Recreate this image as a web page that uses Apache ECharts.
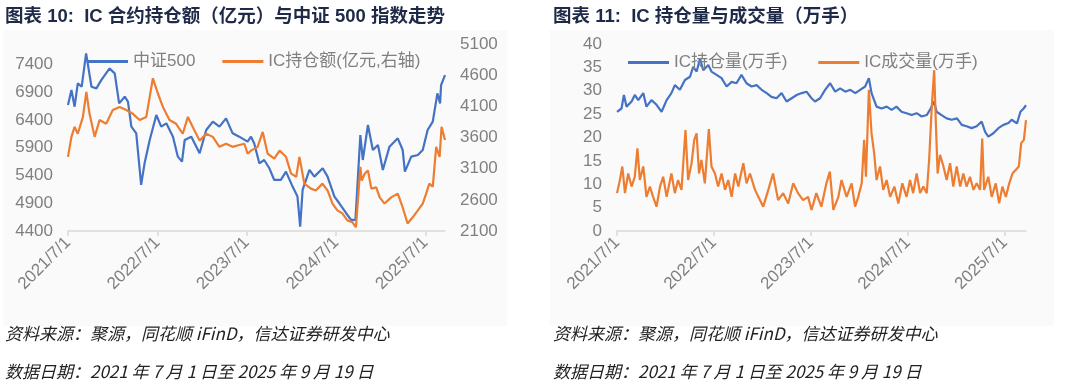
<!DOCTYPE html>
<html><head><meta charset="utf-8">
<script src="https://cdn.jsdelivr.net/npm/echarts@6/dist/echarts.min.js"></script>
<style>html,body{margin:0;padding:0;background:#fff;}#c{width:1080px;height:392px;}</style>
</head><body><div id="c"></div>
<script>
// ---------- data ----------
const xTickLabels = ['2021-07-01','2022-07-01','2023-07-01','2024-07-01','2025-07-01'];
const xStart = '2021-07-01', xEnd = '2025-09-19';

// Chart 10: CSI 500 index (left axis)
const csiDates = ['2021-07-01','2021-07-15','2021-07-28','2021-08-10','2021-08-26','2021-09-13','2021-10-05','2021-10-25','2021-11-14','2021-12-18','2022-01-08','2022-01-26','2022-02-18','2022-03-03','2022-03-17','2022-04-06','2022-04-26','2022-05-10','2022-05-31','2022-06-27','2022-07-17','2022-08-07','2022-09-03','2022-09-23','2022-10-10','2022-10-21','2022-11-17','2022-12-21','2023-01-17','2023-02-13','2023-03-12','2023-04-08','2023-05-05','2023-06-01','2023-07-05','2023-07-19','2023-08-01','2023-08-22','2023-09-11','2023-10-02','2023-10-22','2023-11-18','2023-12-09','2024-01-05','2024-01-25','2024-02-05','2024-02-15','2024-03-14','2024-04-03','2024-05-07','2024-05-27','2024-06-24','2024-07-14','2024-08-11','2024-08-31','2024-09-18','2024-10-08','2024-10-18','2024-11-08','2024-11-28','2024-12-19','2025-01-08','2025-02-04','2025-03-10','2025-03-30','2025-04-08','2025-05-04','2025-05-31','2025-06-20','2025-07-10','2025-07-31','2025-08-19','2025-08-30','2025-09-03','2025-09-19'];
const csiValues = [6670,6940,6640,7060,7000,7600,7000,6970,7120,7330,7240,6700,6820,6730,6280,6160,5230,5620,6040,6490,6280,6340,6100,5740,5650,6040,6100,5800,6220,6370,6280,6430,6160,6100,6010,6100,5980,5620,5680,5530,5320,5320,5470,5200,5020,4480,5140,5500,5380,5530,5380,5020,4900,4720,4600,4600,6130,5680,6310,5860,5950,5500,5920,6070,5860,5470,5740,5770,5860,6220,6370,6880,6700,7030,7210];

// Chart 10: IC open interest amount, 100m CNY (right axis)
const oiAmtDates = ['2021-07-01','2021-07-15','2021-07-28','2021-08-10','2021-08-31','2021-09-14','2021-09-27','2021-10-18','2021-11-07','2021-12-04','2021-12-31','2022-01-28','2022-02-24','2022-03-23','2022-04-20','2022-05-17','2022-06-13','2022-07-03','2022-07-24','2022-08-20','2022-09-16','2022-10-13','2022-11-03','2022-11-23','2022-12-21','2023-01-17','2023-02-13','2023-03-12','2023-04-08','2023-05-05','2023-06-01','2023-06-22','2023-07-05','2023-07-19','2023-08-15','2023-09-05','2023-09-25','2023-10-22','2023-11-13','2023-12-09','2023-12-30','2024-01-20','2024-02-02','2024-02-22','2024-03-20','2024-04-09','2024-05-06','2024-05-27','2024-06-16','2024-07-06','2024-07-27','2024-08-16','2024-09-06','2024-09-20','2024-10-08','2024-10-14','2024-10-26','2024-11-08','2024-11-22','2024-12-12','2024-12-26','2025-01-15','2025-02-11','2025-03-10','2025-03-30','2025-04-19','2025-05-10','2025-05-31','2025-06-20','2025-07-04','2025-07-17','2025-07-31','2025-08-14','2025-08-28','2025-09-05','2025-09-19'];
const oiAmtValues = [3290,3610,3770,3660,3930,4330,3980,3610,3880,3820,4040,4090,4040,3980,3880,3930,4550,4310,4090,3880,3820,3660,3930,3770,3550,3660,3610,3450,3500,3450,3480,3500,3340,3390,3450,3690,3340,3260,3390,3290,3020,2970,3290,2860,2780,2750,2860,2750,2540,2430,2380,2270,2240,2160,3130,2910,3020,3070,2780,2800,2640,2540,2640,2700,2480,2220,2320,2430,2540,2700,2860,2810,3450,3290,3770,3560];

// Chart 11: IC open interest, 10k lots
const oiLotDates = ['2021-07-01','2021-07-18','2021-07-27','2021-08-06','2021-08-25','2021-09-06','2021-09-19','2021-10-08','2021-10-20','2021-11-08','2021-11-27','2021-12-16','2022-01-04','2022-01-22','2022-02-04','2022-02-23','2022-03-14','2022-04-02','2022-04-14','2022-04-27','2022-05-10','2022-05-22','2022-06-10','2022-06-22','2022-07-11','2022-07-30','2022-08-18','2022-09-06','2022-09-24','2022-10-13','2022-11-01','2022-11-20','2022-12-09','2022-12-28','2023-01-16','2023-02-03','2023-02-22','2023-03-13','2023-04-01','2023-04-20','2023-05-09','2023-05-28','2023-06-15','2023-07-04','2023-07-17','2023-08-05','2023-08-24','2023-09-12','2023-10-01','2023-10-20','2023-11-08','2023-11-27','2023-12-16','2024-01-03','2024-01-22','2024-02-05','2024-02-15','2024-03-05','2024-03-24','2024-04-12','2024-05-01','2024-05-19','2024-06-07','2024-06-26','2024-07-15','2024-08-03','2024-08-22','2024-09-10','2024-09-22','2024-10-08','2024-10-17','2024-11-05','2024-11-24','2024-12-13','2025-01-02','2025-01-20','2025-02-07','2025-02-26','2025-03-17','2025-04-05','2025-04-18','2025-04-30','2025-05-19','2025-06-07','2025-06-26','2025-07-15','2025-07-27','2025-08-16','2025-08-29','2025-09-10','2025-09-19'];
const oiLotValues = [25.5,26.2,29.1,26.6,27.7,29.1,28.0,29.5,26.6,28.0,27.0,25.5,28.0,29.5,31.2,30.2,32.3,33.0,35.1,34.1,36.9,34.4,35.5,34.1,33.4,32.7,30.9,31.9,31.6,33.4,31.6,30.9,31.2,30.2,29.5,28.7,28.4,29.5,27.7,28.4,29.1,29.5,29.8,28.4,27.7,28.4,30.2,31.6,29.8,30.5,29.8,30.2,29.5,30.2,30.9,32.7,29.5,26.6,26.2,26.6,25.9,26.6,25.5,25.2,24.8,25.2,24.5,24.8,25.9,27.7,25.5,24.8,24.1,23.8,24.1,22.7,22.4,22.0,22.4,23.4,21.2,20.2,20.9,22.0,22.7,23.1,23.8,23.0,25.5,26.2,26.9];

// Chart 11: IC trading volume, 10k lots
const volDates = ['2021-07-01','2021-07-12','2021-07-21','2021-07-31','2021-08-12','2021-08-25','2021-09-06','2021-09-16','2021-09-25','2021-10-08','2021-10-20','2021-11-02','2021-11-14','2021-11-27','2021-12-10','2021-12-22','2022-01-04','2022-01-22','2022-02-04','2022-02-16','2022-03-01','2022-03-16','2022-03-26','2022-04-08','2022-04-18','2022-04-27','2022-05-06','2022-05-15','2022-05-28','2022-06-12','2022-06-22','2022-07-05','2022-07-17','2022-07-30','2022-08-12','2022-08-24','2022-09-06','2022-09-19','2022-10-01','2022-10-20','2022-11-01','2022-11-14','2022-12-03','2022-12-22','2023-01-03','2023-01-22','2023-02-09','2023-02-28','2023-03-19','2023-04-07','2023-04-26','2023-05-14','2023-06-02','2023-06-21','2023-07-04','2023-07-22','2023-08-10','2023-08-29','2023-09-11','2023-09-24','2023-10-13','2023-10-25','2023-11-13','2023-12-02','2023-12-15','2023-12-27','2024-01-09','2024-01-18','2024-01-25','2024-02-05','2024-02-15','2024-02-25','2024-03-05','2024-03-18','2024-03-30','2024-04-12','2024-04-25','2024-05-11','2024-05-26','2024-06-10','2024-06-26','2024-07-09','2024-07-21','2024-08-03','2024-08-16','2024-08-28','2024-09-10','2024-09-19','2024-09-29','2024-10-08','2024-10-14','2024-10-21','2024-10-30','2024-11-12','2024-11-24','2024-12-07','2024-12-19','2025-01-01','2025-01-14','2025-01-26','2025-02-07','2025-02-20','2025-03-05','2025-03-17','2025-03-30','2025-04-07','2025-04-14','2025-04-30','2025-05-13','2025-05-28','2025-06-10','2025-06-22','2025-07-05','2025-07-18','2025-07-30','2025-08-23','2025-09-01','2025-09-11','2025-09-19'];
const volValues = [8.1,10.9,13.8,8.1,12.3,9.5,11.6,17.7,10.9,13.8,7.3,9.5,7.3,5.2,9.5,11.6,7.3,12.3,8.1,10.9,8.8,21.6,10.9,14.5,19.5,20.9,12.3,15.2,10.2,21.8,13.8,12.3,9.5,12.3,8.8,10.9,7.3,12.3,9.5,14.5,10.2,12.3,8.8,6.6,5.2,8.8,12.3,6.6,8.1,5.9,10.2,8.1,6.6,7.3,4.5,8.1,5.2,10.2,12.7,4.5,7.3,10.9,7.3,10.2,5.2,7.3,10.2,19.5,11.6,30.2,20.9,16.6,10.9,13.8,8.8,10.9,7.3,9.5,5.9,10.2,7.3,10.9,8.1,12.3,8.1,9.5,8.1,15.2,26.6,34.4,23.7,12.3,16.3,13.8,10.9,14.5,9.5,13.8,9.5,12.3,9.5,11.6,8.8,10.2,8.8,19.8,8.8,11.6,7.3,10.2,5.9,9.5,7.3,10.2,12.3,13.8,18.8,19.5,23.7];

const names = {
  csi: '中证500', oiAmt: 'IC持仓额(亿元,右轴)', oiLot: 'IC持仓量(万手)', vol: 'IC成交量(万手)'
};
const texts = {
  t1: '图表 10:  IC 合约持仓额（亿元）与中证 500 指数走势',
  t2: '图表 11:  IC 持仓量与成交量（万手）',
  src: '资料来源：聚源，同花顺 iFinD，信达证券研发中心',
  date: '数据日期：2021 年 7 月 1 日至 2025 年 9 月 19 日'
};

// ---------- helpers ----------
const ts = s => { const p = s.split('-').map(Number); return Date.UTC(p[0], p[1]-1, p[2]); };
const pairs = (d, v) => d.map((x, i) => [ts(x), v[i]]);
const fmt = v => { const d = new Date(v); return d.getUTCFullYear() + '/' + (d.getUTCMonth()+1) + '/' + d.getUTCDate(); };
const FONT = '"Liberation Sans", Arial, "Noto Sans CJK SC", sans-serif';
const CJK = '"Noto Sans CJK SC", "Liberation Sans", sans-serif';
const GRAY = '#808080', AXIS = '#d9d9d9', BLUE = '#4472C4', ORANGE = '#ED7D31';
const tickVals = xTickLabels.map(ts);

function xAxis(grid) {
  return {
    type: 'value', gridIndex: grid, min: ts(xStart), max: ts(xEnd), scale: true,
    axisLine: { lineStyle: { color: AXIS, width: 1.5 } },
    axisTick: { show: true, customValues: tickVals, length: 5, lineStyle: { color: AXIS, width: 1.5 } },
    axisLabel: { customValues: tickVals, rotate: 45, color: GRAY, fontSize: 17, fontFamily: FONT,
      margin: 9, formatter: fmt, hideOverlap: false },
    splitLine: { show: false }
  };
}
function yAxis(grid, min, max, interval, pos) {
  return {
    type: 'value', gridIndex: grid, position: pos, min: min, max: max, interval: interval,
    axisLine: { show: false }, axisTick: { show: false }, splitLine: { show: false },
    axisLabel: { color: GRAY, fontSize: 17, fontFamily: FONT, margin: 15, formatter: v => String(v),
      showMaxLabel: (max - min) % interval === 0 }
  };
}
function line(name, x, y, data, color) {
  return { type: 'line', name: name, xAxisIndex: x, yAxisIndex: y, data: data, symbol: 'none',
    lineStyle: { color: color, width: 2.2 }, itemStyle: { color: color }, animation: false };
}
const legendBase = { icon: 'rect', itemWidth: 41, itemHeight: 3, textStyle: { color: GRAY, fontSize: 17, fontFamily: FONT } };

const chart = echarts.init(document.getElementById('c'));
chart.setOption({
  backgroundColor: '#ffffff',
  animation: false,
  textStyle: { fontFamily: FONT },
  grid: [
    { left: 68, top: 44, width: 377, height: 187 },
    { left: 617, top: 44, width: 409, height: 187 }
  ],
  xAxis: [xAxis(0), xAxis(1)],
  yAxis: [
    yAxis(0, 4400, 7770, 500, 'left'),
    yAxis(0, 2100, 5100, 500, 'right'),
    yAxis(1, 0, 40, 5, 'left')
  ],
  legend: [
    Object.assign({ data: [names.csi, names.oiAmt], left: 82, top: 48, itemGap: 27 }, legendBase),
    Object.assign({ data: [names.oiLot, names.vol], left: 623, top: 49, itemGap: 31 }, legendBase)
  ],
  series: [
    line(names.csi, 0, 0, pairs(csiDates, csiValues), BLUE),
    line(names.oiAmt, 0, 1, pairs(oiAmtDates, oiAmtValues), ORANGE),
    line(names.oiLot, 1, 2, pairs(oiLotDates, oiLotValues), BLUE),
    line(names.vol, 1, 2, pairs(volDates, volValues), ORANGE)
  ],
  graphic: [
    { type: 'rect', left: 3, top: 30, z: -10, silent: true, shape: { width: 504, height: 296 }, style: { fill: '#fafafa' } },
    { type: 'rect', left: 550, top: 30, z: -10, silent: true, shape: { width: 504, height: 296 }, style: { fill: '#fafafa' } },
    { type: 'text', left: 5, top: 8, style: { text: texts.t1, font: 'bold 18.5px ' + FONT, fill: '#1f2a48' } },
    { type: 'text', left: 553, top: 8, style: { text: texts.t2, font: 'bold 18.5px ' + FONT, fill: '#1f2a48' } },
    { type: 'text', left: 5, top: 325, style: { text: texts.src, font: 'italic 17px ' + CJK, fill: '#222' } },
    { type: 'text', left: 553, top: 325, style: { text: texts.src, font: 'italic 17px ' + CJK, fill: '#222' } },
    { type: 'text', left: 5, top: 363, style: { text: texts.date, font: 'italic 17px ' + CJK, fill: '#222' } },
    { type: 'text', left: 553, top: 363, style: { text: texts.date, font: 'italic 17px ' + CJK, fill: '#222' } }
  ]
});
</script></body></html>
